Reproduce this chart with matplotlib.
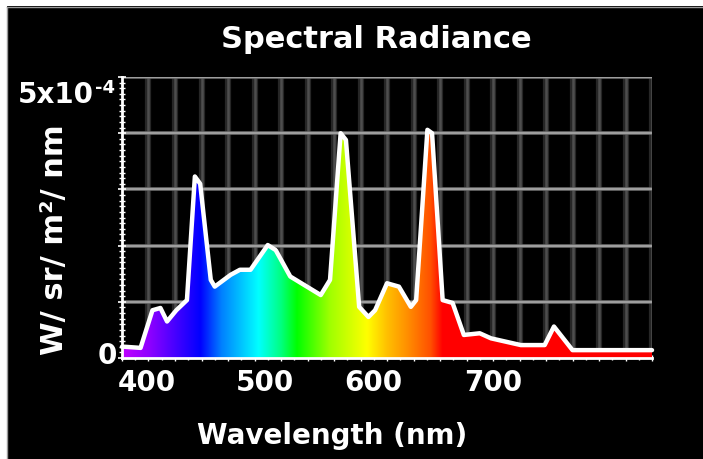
import numpy as np
import matplotlib
matplotlib.use("Agg")
import matplotlib.pyplot as plt
from matplotlib.colors import to_rgb
from matplotlib.patches import Rectangle
from matplotlib.lines import Line2D
from matplotlib.ticker import MultipleLocator

# ---------------- data ----------------
wavelength_nm = [380, 382, 394, 403, 409, 414, 421, 429, 435, 439, 447, 450, 462, 469,
                 477, 490, 496, 507, 530, 537, 545, 549, 559, 566, 571, 580, 589, 598,
                 602, 610.5, 614, 622, 629.5, 638, 650, 658.5, 681, 699, 706, 720, 780]
radiance_e4 = [0.20, 0.20, 0.18, 0.85, 0.89, 0.65, 0.85, 1.03, 3.23, 3.10, 1.39, 1.27, 1.48, 1.57,
               1.57, 2.01, 1.92, 1.45, 1.12, 1.39, 4.00, 3.88, 0.91, 0.73, 0.85, 1.33, 1.27, 0.91,
               1.03, 4.06, 4.00, 1.03, 0.98, 0.41, 0.44, 0.35, 0.23, 0.23, 0.56, 0.14, 0.14]

# spectrum colour stops (wavelength -> colour)
color_stop_nm = [380, 400, 439, 455, 483, 500, 512, 537, 565, 580, 595, 613, 622, 780]
color_stop_hex = ['#C000FF', '#9000FF', '#0000FF', '#0080FF', '#00FFFF', '#00FF80', '#00FF00',
                  '#A0FF00', '#FFFF00', '#FFC000', '#FF9000', '#FF5000', '#FF0000', '#FF0000']

title = "Spectral Radiance"
x_label = "Wavelength (nm)"
y_label = "W/ sr/ m²/ nm"
xtick_labels = ["400", "500", "600", "700"]
xtick_label_pos = [399, 488, 570, 660]   # where the labels sit in the original chart
ytick_labels = ["0", "5x10"]
ytick_exp = "-4"

# ---------------- figure ----------------
W, H = 703, 459
fig = plt.figure(figsize=(W / 100, H / 100), dpi=100, facecolor='black')
FONT = ['DejaVu Sans']

# white frame strips (top & left)
fig.patches.append(Rectangle((0, 1 - 6 / H), 1, 6 / H, transform=fig.transFigure,
                             facecolor='white', edgecolor='none', zorder=0))
fig.patches.append(Rectangle((0, 0), 7 / W, 1, transform=fig.transFigure,
                             facecolor='white', edgecolor='none', zorder=0))
fig.lines.append(Line2D([7 / W, 1], [1 - 6.5 / H, 1 - 6.5 / H], transform=fig.transFigure,
                        color='#9a9a9a', lw=1))
fig.lines.append(Line2D([7.5 / W, 7.5 / W], [0, 1 - 6.5 / H], transform=fig.transFigure,
                        color='#9a9a9a', lw=1))

left, right, top, bottom = 122, 652, 77, 358
ax = fig.add_axes([left / W, 1 - bottom / H, (right - left) / W, (bottom - top) / H])
ax.set_facecolor('black')

wl = np.array(wavelength_nm, dtype=float)
rad = np.array(radiance_e4) * 1e-4

ax.set_xlim(380, 780)
ax.set_ylim(0, 5e-4)

# grid
for g in np.arange(400, 781, 20):
    ax.axvline(g, color='#262626', lw=4.5, zorder=0.5)
    ax.axvline(g, color='#4e4e4e', lw=1.8, zorder=0.6)
for g in np.arange(1, 6) * 1e-4:
    ax.axhline(g, color='#6e6e6e', lw=2.6, zorder=0.7)
    ax.axhline(g, color='#a8a8a8', lw=1.2, zorder=0.8)

# gradient fill
xs = np.linspace(380, 780, 800)
stops_rgb = np.array([to_rgb(c) for c in color_stop_hex])
img = np.stack([np.interp(xs, color_stop_nm, stops_rgb[:, k]) for k in range(3)], axis=-1)[None, :, :]
poly = ax.fill_between(wl, rad, 0, color='none', lw=0)
im = ax.imshow(img, extent=[380, 780, 0, 5e-4], aspect='auto', origin='lower',
               interpolation='bilinear', zorder=2)
path = poly.get_paths()[0]
im.set_clip_path(path, transform=ax.transData)

# curve
ax.plot(wl, rad, color='white', lw=3.2, solid_joinstyle='round', solid_capstyle='round',
        zorder=3, clip_on=False)

# spines / ticks
for s in ['top', 'right']:
    ax.spines[s].set_visible(False)
for s in ['left', 'bottom']:
    ax.spines[s].set_color('white')
    ax.spines[s].set_linewidth(2)
    ax.spines[s].set_zorder(4)
ax.yaxis.set_minor_locator(MultipleLocator(1e-5))
ax.yaxis.set_major_locator(MultipleLocator(1e-4))
ax.xaxis.set_minor_locator(MultipleLocator(10))
ax.xaxis.set_major_locator(MultipleLocator(20))
ax.tick_params(axis='both', which='both', colors='white', direction='inout',
               labelleft=False, labelbottom=False)
ax.tick_params(axis='y', which='major', length=6, width=1.2)
ax.tick_params(axis='y', which='minor', length=4, width=1)
ax.tick_params(axis='x', which='major', length=4, width=1)
ax.tick_params(axis='x', which='minor', length=3, width=1)

# x tick labels
for lbl, pos in zip(xtick_labels, xtick_label_pos):
    ax.annotate(lbl, xy=(pos, 0), xycoords=('data', 'axes fraction'),
                xytext=(0, -18), textcoords='offset points', ha='center', va='center',
                color='white', fontsize=20, fontweight='bold', family=FONT)

# y tick labels
fig.text(117 / W, 1 - 356 / H, ytick_labels[0], ha='right', va='center', color='white',
         fontsize=20, fontweight='bold', family=FONT)
fig.text(94 / W, 1 - 95 / H, ytick_labels[1], ha='right', va='center', color='white',
         fontsize=20, fontweight='bold', family=FONT)
fig.text(95 / W, 1 - 88 / H, ytick_exp, ha='left', va='center', color='white',
         fontsize=13, fontweight='bold', family=FONT)

# titles / labels
fig.text(376 / W, 1 - 39 / H, title, ha='center', va='center', color='white',
         fontsize=22, fontweight='bold', family=FONT)
fig.text(332 / W, 1 - 436 / H, x_label, ha='center', va='center', color='white',
         fontsize=20, fontweight='bold', family=FONT)
fig.text(55 / W, 1 - 240 / H, y_label, ha='center', va='center', color='white',
         rotation=90, fontsize=22, fontweight='bold', family=FONT)

fig.savefig('out.png', dpi=100, facecolor='black')
